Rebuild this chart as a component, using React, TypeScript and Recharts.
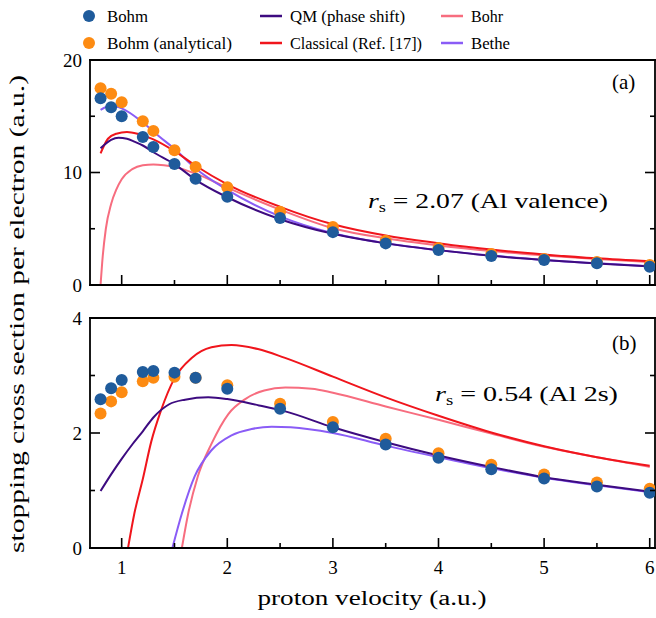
import React from "react";
import { ComposedChart, Line, Scatter, XAxis, YAxis } from "recharts";

const FONT = '"Liberation Serif", "DejaVu Serif", serif';

// simulated points (same velocities in both panels)
const velocities = [0.8, 0.9, 1.0, 1.2, 1.3, 1.5, 1.7, 2.0, 2.5, 3, 3.5, 4, 4.5, 5, 5.5, 6];
const bohmA = [16.6, 15.8, 15.0, 13.15, 12.27, 10.76, 9.45, 7.85, 5.96, 4.7, 3.7, 3.11, 2.58, 2.22, 1.93, 1.63];
const analyticalA = [17.5, 17.0, 16.25, 14.55, 13.7, 11.97, 10.5, 8.68, 6.52, 5.15, 3.94, 3.29, 2.76, 2.31, 2.04, 1.78];
const bohmB = [2.585, 2.78, 2.92, 3.06, 3.08, 3.05, 2.96, 2.77, 2.42, 2.1, 1.8, 1.57, 1.37, 1.21, 1.07, 0.96];
const analyticalB = [2.34, 2.55, 2.71, 2.9, 2.96, 2.98, 2.96, 2.83, 2.51, 2.19, 1.9, 1.65, 1.45, 1.28, 1.14, 1.03];

// panel (a) curves
const qmAx = [0.8, 0.9, 0.97, 1.05, 1.12, 1.2, 1.3, 1.5, 1.7, 2.0, 2.5, 3.0, 3.5, 4.0, 4.5, 5.0, 5.5, 6.0];
const qmAy = [12.15, 12.9, 13.08, 13.0, 12.75, 12.4, 11.8, 10.75, 9.35, 7.8, 5.85, 4.55, 3.7, 3.1, 2.6, 2.22, 1.92, 1.66];
const classicalAx = [0.8, 0.87, 0.95, 1.05, 1.15, 1.3, 1.5, 1.7, 2.0, 2.5, 3.0, 3.5, 4.0, 4.5, 5.0, 5.5, 6.0];
const classicalAy = [11.7, 13.0, 13.45, 13.6, 13.45, 12.95, 11.9, 10.6, 8.95, 6.95, 5.4, 4.4, 3.72, 3.15, 2.72, 2.37, 2.12];
const bohrAx = [0.8, 0.82, 0.85, 0.9, 0.95, 1.0, 1.1, 1.2, 1.3, 1.4, 1.5, 1.7, 2.0, 2.5, 3.0, 3.5, 4.0, 4.5, 5.0, 5.5, 6.0];
const bohrAy = [0, 2.5, 5.0, 7.2, 8.5, 9.4, 10.3, 10.65, 10.72, 10.65, 10.5, 9.9, 8.65, 6.7, 5.05, 4.15, 3.52, 3.02, 2.63, 2.3, 2.05];
const betheAx = [0.8, 0.9, 1.0, 1.2, 1.35, 1.5, 1.7, 2.0, 2.5, 3.0, 3.5, 4.0, 4.5, 5.0, 5.5, 6.0];
const betheAy = [15.56, 15.95, 15.7, 14.45, 13.25, 12.1, 10.35, 8.45, 6.1, 4.6, 3.72, 3.1, 2.62, 2.23, 1.93, 1.67];

// panel (b) curves
const qmBx = [0.8, 0.9, 1.0, 1.1, 1.2, 1.3, 1.45, 1.6, 1.82, 2.0, 2.3, 2.54, 3.0, 3.5, 4.0, 4.5, 5.0, 5.5, 6.0];
const qmBy = [0.99, 1.28, 1.55, 1.8, 2.03, 2.27, 2.5, 2.58, 2.62, 2.59, 2.48, 2.38, 2.1, 1.84, 1.61, 1.41, 1.23, 1.1, 0.98];
const classicalBx = [1.06, 1.12, 1.2, 1.28, 1.37, 1.5, 1.66, 1.85, 2.04, 2.29, 2.54, 3.0, 3.5, 4.0, 4.5, 5.0, 5.5, 6.0];
const classicalBy = [0, 0.6, 1.2, 1.85, 2.38, 2.95, 3.3, 3.49, 3.53, 3.46, 3.31, 2.98, 2.62, 2.3, 2.01, 1.77, 1.58, 1.43];
const bohrBx = [1.57, 1.63, 1.72, 1.85, 2.01, 2.17, 2.35, 2.55, 2.8, 3.0, 3.5, 4.0, 4.5, 5.0, 5.5, 6.0];
const bohrBy = [0, 0.6, 1.24, 1.81, 2.33, 2.59, 2.74, 2.79, 2.77, 2.7, 2.46, 2.23, 1.99, 1.76, 1.58, 1.41];
const betheBx = [1.48, 1.57, 1.69, 1.85, 2.04, 2.23, 2.42, 2.6, 3.0, 3.5, 4.0, 4.5, 5.0, 5.5, 6.0];
const betheBy = [0, 0.6, 1.24, 1.7, 1.96, 2.07, 2.11, 2.1, 2.0, 1.78, 1.58, 1.39, 1.22, 1.09, 0.97];

const xTicks = [1, 1.5, 2, 2.5, 3, 3.5, 4, 4.5, 5, 5.5, 6];
const yTicksA = [0, 5, 10, 15, 20];
const yTicksB = [0, 1, 2, 3, 4];

const C = {
  bohm: "#1f5b9b",
  analytical: "#fd8b12",
  qm: "#3d0b80",
  classical: "#f0151c",
  bohr: "#f76d7f",
  bethe: "#8a5cf6",
};

const pts = (xs: number[], ys: number[]) => xs.map((x, i) => ({ x, y: ys[i] }));

const axisLine = { stroke: "#000", strokeWidth: 1.8, strokeLinecap: "square" as const };

const Dot = (color: string) => (p: any) => <circle cx={p.cx} cy={p.cy} r={6} fill={color} />;

const BottomTick = (p: any, labels: boolean) => {
  const major = p.payload.value % 1 === 0;
  return (
    <g>
      <line x1={p.x} x2={p.x} y1={p.y} y2={p.y - (major ? 10 : 5)} stroke="#000" strokeWidth={1.6} />
      {labels && major && (
        <text x={p.x} y={p.y + 26} textAnchor="middle" fontFamily={FONT} fontSize={19} fill="#000">
          {p.payload.value}
        </text>
      )}
    </g>
  );
};
const TopTick = (p: any) => {
  const major = p.payload.value % 1 === 0;
  return <line x1={p.x} x2={p.x} y1={p.y} y2={p.y + (major ? 10 : 5)} stroke="#000" strokeWidth={1.6} />;
};
const LeftTick = (p: any, step: number) => {
  const major = p.payload.value % step === 0;
  return (
    <g>
      <line x1={p.x} x2={p.x + (major ? 10 : 5)} y1={p.y} y2={p.y} stroke="#000" strokeWidth={1.6} />
      {major && (
        <text x={p.x - 8} y={p.y} dy="0.35em" textAnchor="end" fontFamily={FONT} fontSize={19} fill="#000">
          {p.payload.value}
        </text>
      )}
    </g>
  );
};
const RightTick = (p: any, step: number) => {
  const major = p.payload.value % step === 0;
  return <line x1={p.x} x2={p.x - (major ? 10 : 5)} y1={p.y} y2={p.y} stroke="#000" strokeWidth={1.6} />;
};

const Panel = (props: {
  height: number;
  margin: any;
  yMax: number;
  yTicks: number[];
  step: number;
  labels: boolean;
  bottomHeight: number;
  bohm: number[];
  analytical: number[];
  curves: { key: string; xs: number[]; ys: number[]; color: string }[];
}) => (
  <ComposedChart width={656} height={props.height} margin={props.margin}>
    <XAxis
      xAxisId="b"
      dataKey="x"
      type="number"
      domain={[0.7, 6.05]}
      allowDataOverflow
      ticks={xTicks}
      interval={0}
      tickSize={0}
      tickMargin={0}
      height={props.bottomHeight}
      axisLine={axisLine}
      tickLine={false}
      tick={(p: any) => BottomTick(p, props.labels)}
    />
    <XAxis
      xAxisId="t"
      orientation="top"
      type="number"
      domain={[0.7, 6.05]}
      allowDataOverflow
      ticks={xTicks}
      interval={0}
      tickSize={0}
      tickMargin={0}
      height={10}
      axisLine={axisLine}
      tickLine={false}
      tick={TopTick}
    />
    <YAxis
      yAxisId="l"
      type="number"
      domain={[0, props.yMax]}
      allowDataOverflow
      ticks={props.yTicks}
      interval={0}
      tickSize={0}
      tickMargin={0}
      width={40}
      axisLine={axisLine}
      tickLine={false}
      tick={(p: any) => LeftTick(p, props.step)}
    />
    <YAxis
      yAxisId="r"
      orientation="right"
      type="number"
      domain={[0, props.yMax]}
      allowDataOverflow
      ticks={props.yTicks}
      interval={0}
      tickSize={0}
      tickMargin={0}
      width={1}
      axisLine={axisLine}
      tickLine={false}
      tick={(p: any) => RightTick(p, props.step)}
    />
    {props.curves.map((c) => (
      <Line
        key={c.key}
        xAxisId="b"
        yAxisId="l"
        data={pts(c.xs, c.ys)}
        dataKey="y"
        type="monotone"
        stroke={c.color}
        strokeWidth={2}
        dot={false}
        activeDot={false}
        isAnimationActive={false}
      />
    ))}
    <Scatter
      xAxisId="b"
      yAxisId="l"
      data={pts(velocities, props.analytical)}
      dataKey="y"
      shape={Dot(C.analytical)}
      isAnimationActive={false}
    />
    <Scatter
      xAxisId="b"
      yAxisId="l"
      data={pts(velocities, props.bohm)}
      dataKey="y"
      shape={Dot(C.bohm)}
      isAnimationActive={false}
    />
  </ComposedChart>
);

const legendItems = [
  { label: "Bohm", color: C.bohm, dot: true, x: 89, y: 16, w: 41 },
  { label: "Bohm (analytical)", color: C.analytical, dot: true, x: 89, y: 43, w: 125 },
  { label: "QM (phase shift)", color: C.qm, dot: false, x: 260, y: 16, w: 115 },
  { label: "Classical (Ref. [17])", color: C.classical, dot: false, x: 260, y: 43, w: 132 },
  { label: "Bohr", color: C.bohr, dot: false, x: 441, y: 16, w: 32 },
  { label: "Bethe", color: C.bethe, dot: false, x: 441, y: 43, w: 39 },
];

export default function App() {
  return (
    <div style={{ position: "absolute", left: 0, top: 0, width: 656, height: 618, background: "#fff" }}>
      <div style={{ position: "absolute", left: 0, top: 0 }}>
        <Panel
          height={300}
          margin={{ top: 50, right: 0, bottom: 0, left: 50 }}
          yMax={20}
          yTicks={yTicksA}
          step={10}
          labels={false}
          bottomHeight={15}
          bohm={bohmA}
          analytical={analyticalA}
          curves={[
            { key: "bohr", xs: bohrAx, ys: bohrAy, color: C.bohr },
            { key: "bethe", xs: betheAx, ys: betheAy, color: C.bethe },
            { key: "classical", xs: classicalAx, ys: classicalAy, color: C.classical },
            { key: "qm", xs: qmAx, ys: qmAy, color: C.qm },
          ]}
        />
      </div>
      <div style={{ position: "absolute", left: 0, top: 300 }}>
        <Panel
          height={318}
          margin={{ top: 8, right: 0, bottom: 30, left: 50 }}
          yMax={4}
          yTicks={yTicksB}
          step={2}
          labels={true}
          bottomHeight={40}
          bohm={bohmB}
          analytical={analyticalB}
          curves={[
            { key: "bohr", xs: bohrBx, ys: bohrBy, color: C.bohr },
            { key: "bethe", xs: betheBx, ys: betheBy, color: C.bethe },
            { key: "classical", xs: classicalBx, ys: classicalBy, color: C.classical },
            { key: "qm", xs: qmBx, ys: qmBy, color: C.qm },
          ]}
        />
      </div>
      <svg
        width={656}
        height={618}
        style={{ position: "absolute", left: 0, top: 0, pointerEvents: "none" }}
        fontFamily={FONT}
        fill="#000"
      >
        {legendItems.map((it) => (
          <g key={it.label}>
            {it.dot ? (
              <circle cx={it.x} cy={it.y} r={6} fill={it.color} />
            ) : (
              <line x1={it.x} x2={it.x + 22} y1={it.y} y2={it.y} stroke={it.color} strokeWidth={2.5} />
            )}
            <text
              x={it.dot ? 107 : it.x + 30}
              y={it.y}
              dy="0.33em"
              fontSize={17}
              textLength={it.w}
              lengthAdjust="spacingAndGlyphs"
            >
              {it.label}
            </text>
          </g>
        ))}
        <text x={612} y={89} fontSize={21}>(a)</text>
        <text x={612} y={350} fontSize={21}>(b)</text>
        <text x={368} y={208} fontSize={21} textLength={240} lengthAdjust="spacingAndGlyphs">
          <tspan fontStyle="italic">r</tspan>
          <tspan fontSize={14} dy={4}>s</tspan>
          <tspan dy={-4}> = 2.07 (Al valence)</tspan>
        </text>
        <text x={435} y={401} fontSize={21} textLength={183} lengthAdjust="spacingAndGlyphs">
          <tspan fontStyle="italic">r</tspan>
          <tspan fontSize={14} dy={4}>s</tspan>
          <tspan dy={-4}> = 0.54 (Al 2s)</tspan>
        </text>
        <text
          transform="translate(24,314) rotate(-90)"
          textAnchor="middle"
          fontSize={20}
          textLength={478}
          lengthAdjust="spacingAndGlyphs"
        >
          stopping cross section per electron (a.u.)
        </text>
        <text x={372} y={605} textAnchor="middle" fontSize={20} textLength={229} lengthAdjust="spacingAndGlyphs">
          proton velocity (a.u.)
        </text>
      </svg>
    </div>
  );
}
